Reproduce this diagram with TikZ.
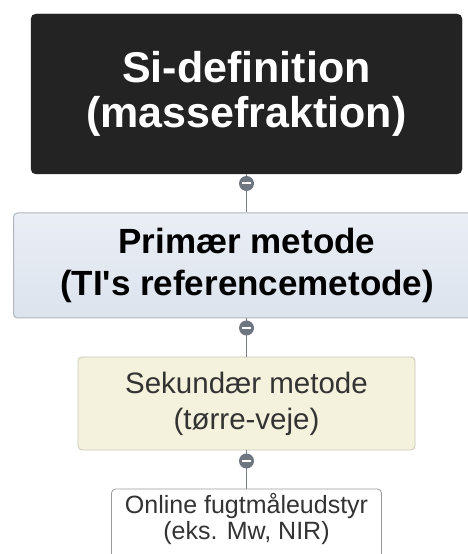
\documentclass[tikz,border=0pt]{standalone}
\usepackage{fontspec}
\setmainfont{Liberation Sans}[Ligatures=TeXOff]
\definecolor{boxblack}{HTML}{232323}
\definecolor{bluetop}{HTML}{EAEEF5}
\definecolor{bluebot}{HTML}{DCE3ED}
\definecolor{blueline}{HTML}{B0B6BE}
\definecolor{cream}{HTML}{F4F1DC}
\definecolor{creamline}{HTML}{CCC9B8}
\definecolor{whiteline}{HTML}{9A9A9A}
\definecolor{knobfill}{HTML}{6E7680}
\definecolor{connline}{HTML}{7A7F86}
\definecolor{textgrey}{HTML}{333333}
\begin{document}
\begin{tikzpicture}[x=1pt,y=1pt,
  boxbase/.style={rectangle, rounded corners=4pt, align=center, inner sep=0pt},
  topbox/.style={boxbase, rounded corners=5pt, fill=boxblack, draw=boxblack, text=white,
    font=\fontsize{43}{45}\selectfont\bfseries, minimum width=431pt, minimum height=160pt},
  primbox/.style={boxbase, top color=bluetop, bottom color=bluebot, draw=blueline, line width=1pt,
    font=\fontsize{35}{42}\selectfont\bfseries, text=black, minimum width=490pt, minimum height=105pt},
  secbox/.style={boxbase, fill=cream, draw=creamline, line width=0.8pt,
    font=\fontsize{29.5}{36}\selectfont, text=textgrey, minimum width=337pt, minimum height=93pt},
  onbox/.style={boxbase, fill=white, draw=whiteline, line width=0.8pt,
    minimum width=270pt, minimum height=80pt},
  ontext/.style={align=center, inner sep=0pt, font=\fontsize{25}{26}\selectfont, text=textgrey},
  conn/.style={draw=connline, line width=1pt},
  knob/.style={circle, fill=knobfill, minimum size=15pt, inner sep=0pt,
    path picture={\draw[white, line width=2pt] ([xshift=-4.5pt]path picture bounding box.center) -- ([xshift=4.5pt]path picture bounding box.center);}}
]
\useasboundingbox (0,0) rectangle (468,554);
\clip (0,0) rectangle (468,554);
\fill[white] (0,0) rectangle (468,554);

\node[topbox] (b1) at (246.5,460) {\raisebox{-3pt}{Si-definition}\\\raisebox{-3pt}{(massefraktion)}};
\node[primbox, anchor=west] (b2) at (13,288.5) {\hspace*{-23pt}Primær metode\\\hspace*{-23pt}(TI's referencemetode)};
\node[secbox] (b3) at (246.5,150.5) {Sekundær metode\\(tørre-veje)};
\node[onbox] (b4) at (246.5,25) {};
\node[ontext, anchor=center] (t4) at (246.5,35) {Online fugtmåleudstyr\\(eks. Mw, NIR)};

\draw[conn] (b1.south) -- (b2.north -| b1.south);
\draw[conn] (b2.south -| b3.north) -- (b3.north);
\draw[conn] (b3.south) -- (b4.north);

\node[knob] (k1) at (246.5,370.5) {};
\node[knob] (k2) at (246.5,226) {};
\node[knob] (k3) at (246.5,93) {};
\end{tikzpicture}
\end{document}
